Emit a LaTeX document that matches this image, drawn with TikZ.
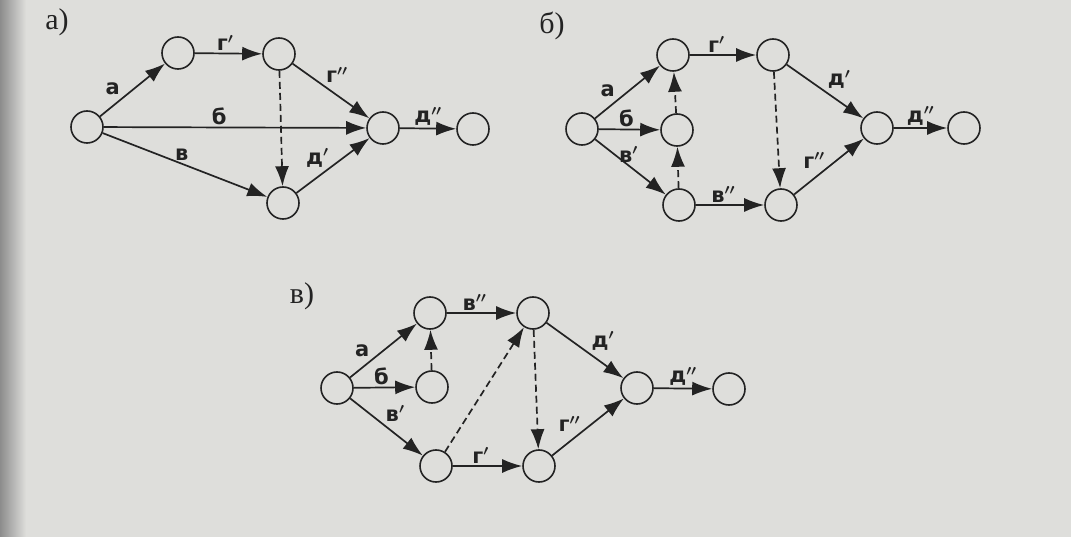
\documentclass[tikz,border=0pt]{standalone}
\usepackage{fontspec}
\setmainfont{Liberation Serif}
\newfontfamily\labfont{DejaVu Sans}
\usetikzlibrary{arrows.meta}
\definecolor{bg}{RGB}{222,222,219}
\definecolor{ink}{RGB}{35,35,35}
\usepackage{amsmath}
\newcommand{\pr}{$\boldsymbol{'}$}
\newcommand{\ppr}{$\boldsymbol{''}$}
\begin{document}
\begin{tikzpicture}[x=1pt,y=-1pt,
  ev/.style={circle,draw=ink,line width=1.6pt,minimum size=32pt,inner sep=0pt},
  arr/.style={draw=ink,line width=1.7pt,-{Latex[length=20pt,width=14pt]}},
  dum/.style={arr,dash pattern=on 7pt off 4pt},
  lab/.style={font=\labfont\bfseries\fontsize{21}{21}\selectfont,text=ink,inner sep=2pt},
  ttl/.style={font=\fontsize{30}{30}\selectfont,text=ink}]
\useasboundingbox (0,0) rectangle (1071,537);
\fill[bg] (0,0) rectangle (1071,537);
\shade[left color=black!45, right color=bg] (0,0) rectangle (26,537);

% ---------- a)
\node[ttl] (ta) at (57,22) {а)};
\node[ev] (a0) at (87,127) {};
\node[ev] (a1) at (178,53) {};
\node[ev] (a2) at (279,54) {};
\node[ev] (a3) at (383,128) {};
\node[ev] (a4) at (473,129) {};
\node[ev] (a5) at (283,203) {};
\draw[arr] (a0) -- node[lab,pos=.35,above left] {а} (a1);
\draw[arr] (a1) -- node[lab,pos=.45,above] {г\pr} (a2);
\draw[arr] (a2) -- node[lab,pos=.4,above right] {г\ppr} (a3);
\draw[arr] (a0) -- node[lab,pos=.44,above] {б} (a3);
\draw[arr] (a0) -- node[lab,pos=.48,above] {в} (a5);
\draw[arr] (a5) -- node[lab,pos=.45,above left,inner sep=0pt] {д\pr} (a3);
\draw[arr] (a3) -- node[lab,above] {д\ppr} (a4);
\draw[dum] (a2) -- (a5);

% ---------- б)
\node[ttl] (tb) at (552,26) {б)};
\node[ev] (b0) at (582,129) {};
\node[ev] (b1) at (673,55) {};
\node[ev] (b2) at (677,130) {};
\node[ev] (b3) at (679,205) {};
\node[ev] (b4) at (773,55) {};
\node[ev] (b5) at (781,205) {};
\node[ev] (b6) at (877,128) {};
\node[ev] (b7) at (964,128) {};
\draw[arr] (b0) -- node[lab,pos=.35,above left] {а} (b1);
\draw[arr] (b0) -- node[lab,pos=.45,above] {б} (b2);
\draw[arr] (b0) -- node[lab,pos=.47,above] {в\pr} (b3);
\draw[arr] (b1) -- node[lab,pos=.4,above] {г\pr} (b4);
\draw[arr] (b4) -- node[lab,pos=.5,above right] {д\pr} (b6);
\draw[arr] (b6) -- node[lab,above] {д\ppr} (b7);
\draw[arr] (b3) -- node[lab,pos=.4,above] {в\ppr} (b5);
\draw[arr] (b5) -- node[lab,pos=.45,above left,inner sep=0pt] {г\ppr} (b6);
\draw[dum] (b3) -- (b2);
\draw[dum] (b2) -- (b1);
\draw[dum] (b4) -- (b5);

% ---------- в)
\node[ttl] (tc) at (302,296) {в)};
\node[ev] (c0) at (337,388) {};
\node[ev] (c1) at (430,313) {};
\node[ev] (c2) at (432,387) {};
\node[ev] (c3) at (436,466) {};
\node[ev] (c4) at (533,313) {};
\node[ev] (c5) at (539,466) {};
\node[ev] (c6) at (637,388) {};
\node[ev] (c7) at (729,389) {};
\draw[arr] (c0) -- node[lab,pos=.33,above left] {а} (c1);
\draw[arr] (c0) -- node[lab,pos=.45,above] {б} (c2);
\draw[arr] (c0) -- node[lab,pos=.45,above right] {в\pr} (c3);
\draw[arr] (c1) -- node[lab,pos=.4,above] {в\ppr} (c4);
\draw[arr] (c4) -- node[lab,pos=.55,above right] {д\pr} (c6);
\draw[arr] (c6) -- node[lab,above] {д\ppr} (c7);
\draw[arr] (c3) -- node[lab,pos=.4,above] {г\pr} (c5);
\draw[arr] (c5) -- node[lab,pos=.4,above left,inner sep=0pt] {г\ppr} (c6);
\draw[dum] (c2) -- (c1);
\draw[dum] (c3) -- (c4);
\draw[dum] (c4) -- (c5);
\end{tikzpicture}
\end{document}
